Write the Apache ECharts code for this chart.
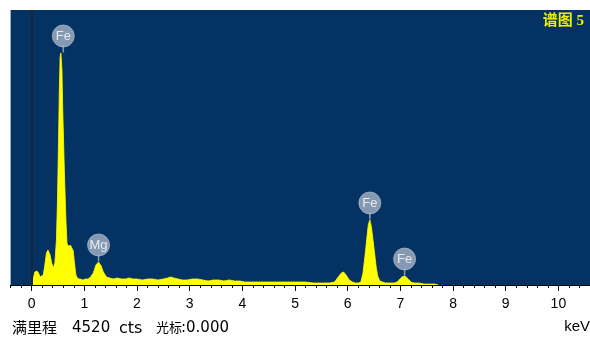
<!DOCTYPE html>
<html><head><meta charset="utf-8">
<script src="https://cdn.jsdelivr.net/npm/echarts@6/dist/echarts.min.js"></script>
<style>html,body{margin:0;padding:0;background:#fff}#c{width:590px;height:337px}</style>
</head><body><div id="c"></div>
<script>
// Spectrum energies (keV)
const energies = [0.00,0.03,0.06,0.10,0.13,0.16,0.19,0.22,0.25,0.28,0.31,0.35,0.38,0.41,0.44,0.47,0.49,0.51,0.525,0.54,0.555,0.575,0.59,0.62,0.65,0.67,0.69,0.71,0.74,0.76,0.79,0.81,0.84,0.88,0.92,0.97,1.02,1.07,1.12,1.17,1.22,1.27,1.32,1.36,1.42,1.48,1.55,1.62,1.70,1.78,1.85,1.92,2.00,2.10,2.20,2.30,2.40,2.50,2.58,2.64,2.70,2.78,2.86,2.95,3.05,3.15,3.25,3.35,3.45,3.55,3.65,3.75,3.85,3.95,4.05,4.15,4.30,4.45,4.60,4.75,4.90,5.05,5.20,5.35,5.50,5.65,5.75,5.82,5.88,5.92,5.97,6.03,6.09,6.15,6.20,6.25,6.29,6.33,6.36,6.39,6.42,6.45,6.48,6.51,6.54,6.57,6.61,6.66,6.72,6.80,6.88,6.94,6.99,7.03,7.07,7.11,7.15,7.20,7.26,7.35,7.45,7.55,7.65,7.72];
// Counts
const counts = [16,99,214,230,197,132,115,164,329,526,575,493,362,280,362,740,1397,2384,3206,3749,3814,3535,2877,1890,1069,690,640,665,650,620,560,380,164,99,99,82,99,99,132,197,329,378,312,214,132,115,99,115,99,99,115,99,99,82,99,99,82,99,115,132,115,99,82,82,99,99,82,66,82,82,66,82,66,66,49,49,49,49,49,49,49,49,49,33,33,33,49,132,197,214,164,82,49,33,33,49,197,493,740,986,1069,954,740,526,296,148,66,49,33,33,33,49,99,132,148,132,99,49,33,33,16,16,16,0];
const fullScale = 4520;
const tickValues = [0,1,2,3,4,5,6,7,8,9,10];
const tickLabels = ['0','1','2','3','4','5','6','7','8','9','10'];
const peakNames = ['Fe','Mg','Fe','Fe'];
const peakEnergies = [0.6,1.27,6.42,7.08];
const peakCounts = [3814,378,1069,148];
const titleText = '谱图 5';
const footerLabel = '满里程';
const footerCounts = '4520';
const footerUnit = 'cts';
const footerCursor = '光标';
const footerCursorValue = ':0.000';
const unitText = 'keV';

const chart = echarts.init(document.getElementById('c'), null, {renderer:'canvas'});
const seriesData = energies.map((e,i)=>[e,counts[i]]);
const peakData = peakNames.map((n,i)=>({name:n, value:[peakEnergies[i], peakCounts[i]]}));
const latin = 'Liberation Sans, Arial, Noto Sans CJK SC, sans-serif';
const ftLatin = '15px "DejaVu Sans", sans-serif';
const ftCJK = '15px "Noto Sans CJK SC", sans-serif';
const badgeColor = '#a7b3c6';

chart.setOption({
  animation:false,
  backgroundColor:'#ffffff',
  grid:{left:10.6, top:10, width:581, height:275, show:true, backgroundColor:'#043263', borderWidth:0},
  xAxis:[{
    type:'value', min:-0.4, max:10.6, position:'bottom',
    axisLine:{show:true, onZero:false, lineStyle:{color:'#000', width:1}},
    axisTick:{show:true, customValues:tickValues, length:6, lineStyle:{color:'#000', width:1}},
    axisLabel:{show:true, customValues:tickValues, margin:12, fontSize:14, color:'#000', fontFamily:latin,
      formatter:(v)=>{const i=tickValues.indexOf(Math.round(v)); return i>=0?tickLabels[i]:'';}},
    splitLine:{show:false}
  },{
    type:'value', min:-0.4, max:10.6, interval:0.2, position:'bottom',
    axisLine:{show:false, onZero:false},
    axisTick:{show:true, length:3, lineStyle:{color:'#000', width:1}},
    axisLabel:{show:false}, splitLine:{show:false}
  }],
  yAxis:{type:'value', min:0, max:fullScale, show:false, splitLine:{show:false}},
  series:[{
    type:'line', xAxisIndex:0, data:seriesData, showSymbol:false, symbol:'none',
    lineStyle:{color:'#ffff00', width:0.8}, areaStyle:{color:'#ffff00', opacity:1},
    silent:true,
    markLine:{silent:true, symbol:['none','none'], label:{show:false},
      lineStyle:{color:'#1c2636', width:2, type:'solid'}, data:[{xAxis:0}]}
  },{
    type:'scatter', xAxisIndex:0, data:peakData, silent:true, z:5,
    symbol:'rect', symbolSize:[1.6,7], symbolOffset:[0,-4], itemStyle:{color:badgeColor}
  },{
    type:'scatter', xAxisIndex:0, data:peakData, silent:true, z:6,
    symbol:'circle', symbolSize:22, symbolOffset:[0,-17],
    itemStyle:{color:badgeColor, borderColor:'#b8c2d2', borderWidth:0.8},
    label:{show:true, position:'inside', formatter:'{b}', color:'#ffffff', fontSize:13, fontFamily:latin}
  }],
  graphic:[
    {type:'text', right:6, top:14, style:{text:titleText, fill:'#eeee00', font:'bold 15px "Liberation Serif", "Noto Sans CJK SC", serif'}},
    {type:'text', left:12, top:320, style:{text:footerLabel, fill:'#000', font:ftCJK}},
    {type:'text', left:72, top:321, style:{text:footerCounts, fill:'#000', font:ftLatin}},
    {type:'text', left:119, top:321, style:{text:footerUnit, fill:'#000', font:'16px "DejaVu Sans", sans-serif'}},
    {type:'text', left:156, top:321, style:{text:footerCursor, fill:'#000', font:'13px "Noto Sans CJK SC", sans-serif'}},
    {type:'text', left:181, top:321, style:{text:footerCursorValue, fill:'#000', font:ftLatin}},
    {type:'text', right:0, top:319, style:{text:unitText, fill:'#000', font:'15px "Liberation Sans", sans-serif'}}
  ]
});
</script></body></html>
